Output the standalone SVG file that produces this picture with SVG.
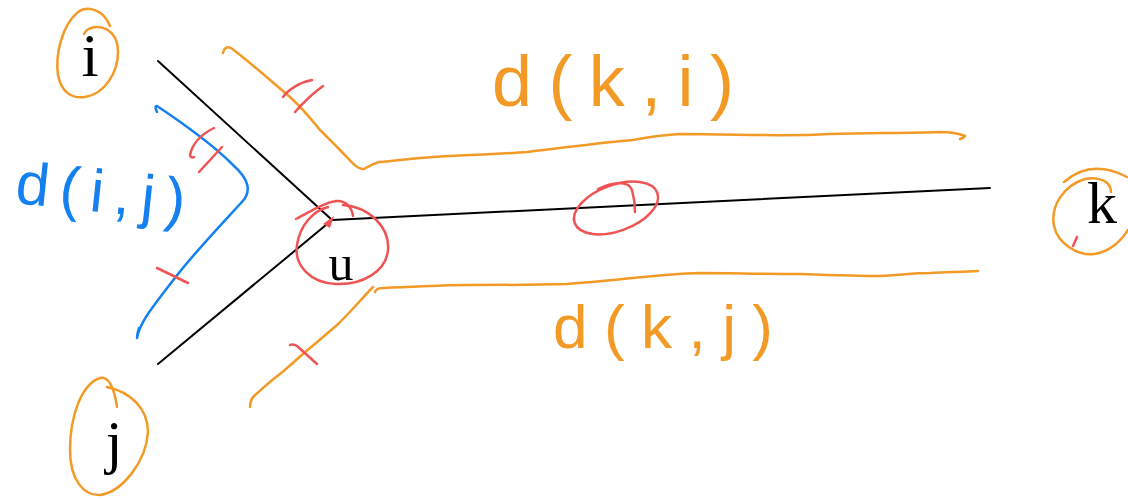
<svg xmlns="http://www.w3.org/2000/svg" width="1128" height="499" viewBox="0 0 1128 499">
<style>
.lbl{font-family:"Liberation Serif","Times New Roman",serif;fill:#000;}
.edge{stroke:#000;stroke-width:2;fill:none;stroke-linecap:round;}
.or{stroke:#f39a26;stroke-width:2.5;fill:none;stroke-linecap:round;stroke-linejoin:round;}
.rd{stroke:#ef5454;stroke-width:2.5;fill:none;stroke-linecap:round;stroke-linejoin:round;}
.bl{stroke:#1580f0;stroke-width:2.5;fill:none;stroke-linecap:round;stroke-linejoin:round;}
.hand{font-family:"Liberation Sans","DejaVu Sans",sans-serif;}
</style>
<rect width="1128" height="499" fill="#fff"/>

<g id="connectors">
  <line class="edge" x1="158" y1="61" x2="331" y2="219"/>
  <line class="edge" x1="158" y1="364" x2="332" y2="220"/>
  <line class="edge" x1="332" y1="220" x2="990" y2="188"/>
</g>

<g id="node-i">
  <text class="lbl" x="90" y="76" font-size="62" text-anchor="middle">i</text>
  <path class="or" d="M110,26 C104,10 88,5 78,12 C62,25 55,55 58,75 C61,92 72,99 85,97 C105,94 118,72 118,52 C118,35 108,27 97,27 C90,27 86,30 84,34"/>
</g>

<g id="node-j">
  <text class="lbl" x="114" y="462" font-size="60" text-anchor="middle">j</text>
  <path class="or" d="M117,407 C114,386 108,376 100,378 C82,384 70,415 70,450 C70,480 84,496 100,495 C122,492 146,462 148,432 C148,408 130,392 107,387"/>
</g>

<g id="node-k">
  <text class="lbl" x="1102" y="223" font-size="60" text-anchor="middle">k</text>
  <path class="or" d="M1064,182 C1080,168 1100,163 1127,177"/>
  <path class="or" d="M1111,192 C1111,182 1100,176 1085,179 C1065,185 1050,205 1054,226 C1058,244 1078,256 1094,254 C1110,252 1122,240 1128,230"/>
  <path class="rd" d="M1077,237 L1073,246" stroke-width="2"/>
</g>

<g id="node-u">
  <text class="lbl" x="341" y="280" font-size="50" text-anchor="middle">u</text>
  <path class="rd" d="M343,205 C370,207 390,228 388,250 C386,272 362,285 336,284 C310,283 294,265 297,245 C300,225 313,211 328,207"/>
  <path class="rd" d="M296,219 C310,212 322,203 336,201 C346,200 352,208 353,216"/>
  <polygon points="323,224 334,216 330,228" fill="#ef5454"/>
</g>

<g id="middle-mark">
  <ellipse cx="616" cy="208" rx="44" ry="23" transform="rotate(-20 616 208)" class="rd"/>
  <path class="rd" d="M598,189 C612,182 628,180 632,190 C634,197 635,205 635,212"/>
</g>

<g id="path-ki">
  <path class="or" d="M223,53 C224,48 227,46 231,48 C250,62 272,82 290,97 C302,108 312,120 320,130 C328,138 333,143 340,150 C350,160 357,170 364,169 C370,166 374,163 380,162 C395,161 415,158 433,157 C470,155 500,154 527,152 C570,147 605,142 633,140 C650,137 660,135 680,134 C740,134 780,137 830,134 C870,133 910,133 940,132 C952,132 960,134 965,136 C963,138 961,139 960,139"/>
  <path class="rd" d="M283,97 C288,90 300,82 312,80"/>
  <path class="rd" d="M295,112 C302,104 312,94 323,86"/>
  <text class="hand" x="492" y="106" font-size="72" fill="#f39a26" textLength="242" lengthAdjust="spacing">d(k,i)</text>
</g>

<g id="path-kj">
  <path class="or" d="M250,407 C250,402 251,399 254,396 C262,389 268,383 280,374 C292,364 298,358 310,348 C320,340 326,334 336,326 C350,313 362,298 373,287"/>
  <path class="or" d="M375,292 C376,289 378,288 383,288 C420,287 440,285 467,285 C500,285 530,285 567,284 C620,280 660,274 700,273 C730,273 760,274 800,274 C830,275 860,276 880,276 C900,275 915,273 930,273 C950,272 965,272 978,271"/>
  <path class="rd" d="M290,345 C292,344 294,344 297,346 L317,364"/>
  <text class="hand" x="553" y="348" font-size="62" fill="#f39a26" textLength="220" lengthAdjust="spacing">d(k,j)</text>
</g>

<g id="path-ij">
  <path class="bl" d="M157,112 C155,108 155,106 157,106 C175,118 210,142 232,164 C250,180 252,192 241,203 C218,228 192,255 171,283 C152,308 140,322 137,338 C137,334 138,331 139,328"/>
  <path class="rd" d="M214,128 C200,135 192,145 190,155 C190,157 192,158 194,157"/>
  <path class="rd" d="M199,172 L222,147"/>
  <path class="rd" d="M157,268 L188,283"/>
  <text class="hand" x="15" y="212" font-size="60" fill="#1580f0" textLength="170" lengthAdjust="spacing" transform="rotate(6 100 200)">d(i,j)</text>
</g>
</svg>
